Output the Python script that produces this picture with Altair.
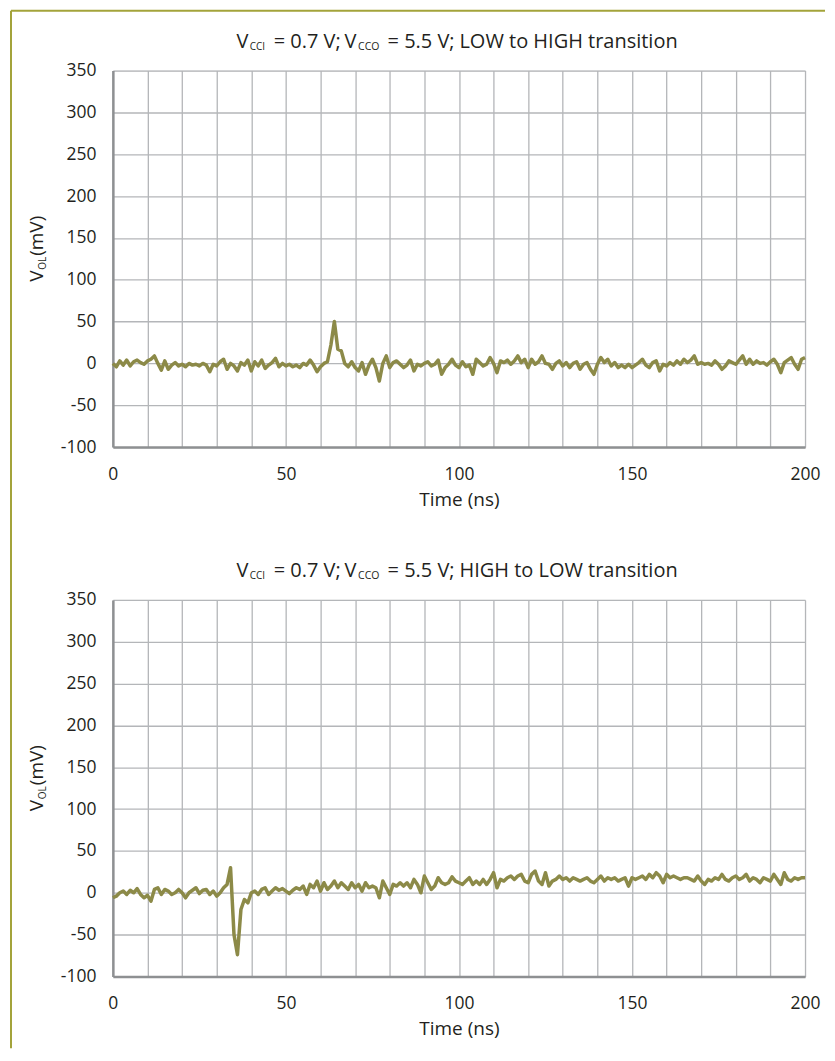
import altair as alt
import pandas as pd

# ---------------- data ----------------
time_ns = list(range(0, 201))

vol_low_to_high = [
    0, -4, 3, -2, 4, -3, 2, 4, 1, -1,
    3, 5, 9, 0, -8, 3, -7, -2, 1, -3,
    -1, -4, 0, -2, -1, -3, 0, -2, -10, -1,
    -3, 2, 5, -7, 0, -3, -9, 1, -2, 4,
    -9, 2, -3, 4, -6, -2, 1, 6, -4, 0,
    -3, -1, -4, -2, -5, 0, -2, 4, -2, -10,
    -4, 0, 2, 22, 50, 17, 15, 0, -4, 2,
    -5, -9, 1, -13, -2, 5, -5, -21, 0, 9,
    -5, 1, 3, -1, -5, -2, 4, -9, -1, -3,
    0, 2, -3, -1, 4, -13, -5, -1, 5, -2,
    -5, 2, -4, -2, -13, 5, 1, -3, -1, 7,
    0, -11, 3, 1, 4, -1, 3, 9, 1, 5,
    -5, 5, -1, 2, 9, 0, -1, -7, 0, 3,
    -3, 1, -5, 0, 2, -7, -1, 1, -7, -13,
    -1, 7, 1, 5, -3, 1, -5, -2, -5, -1,
    -5, -2, 1, 5, -2, -5, 1, 3, -9, -1,
    -3, 1, -2, 3, -1, 5, 1, 4, 9, -1,
    1, -1, 0, -2, 3, -1, -7, -3, 3, 1,
    -1, 4, 9, -1, 5, -1, 3, 0, 1, -2,
    2, 5, -1, -11, 1, 4, 7, -1, -7, 5,
    7,
]

vol_high_to_low = [
    -6, -4, 0, 2, -2, 3, 0, 5, -2, -6,
    -3, -10, 4, 6, -2, 4, 2, -2, 0, 4,
    0, -6, 0, 3, 6, -1, 3, 4, -2, 2,
    -4, 0, 6, 10, 30, -50, -74, -20, -8, -12,
    0, 2, -2, 4, 6, -2, 2, 6, 3, 5,
    2, -1, 3, 6, 4, 8, -2, 10, 6, 14,
    2, 12, 4, 8, 14, 6, 12, 8, 4, 12,
    6, 10, 2, 12, 6, 8, 6, -6, 14, 6,
    -2, 10, 8, 12, 8, 12, 6, 16, 10, 0,
    20, 12, 4, 8, 18, 12, 10, 12, 19, 14,
    12, 10, 14, 18, 10, 14, 10, 16, 10, 16,
    24, 6, 16, 14, 18, 20, 16, 20, 22, 14,
    12, 22, 26, 14, 10, 24, 8, 14, 16, 20,
    16, 18, 14, 18, 16, 14, 16, 18, 14, 12,
    16, 20, 14, 18, 16, 18, 14, 16, 18, 8,
    18, 16, 18, 20, 16, 22, 18, 24, 20, 12,
    22, 18, 20, 18, 16, 18, 18, 16, 14, 20,
    14, 10, 16, 14, 18, 16, 22, 16, 14, 18,
    20, 16, 18, 22, 14, 18, 16, 12, 18, 16,
    14, 22, 16, 10, 24, 16, 14, 18, 16, 18,
    18,
]

titles = ["LOW to HIGH transition", "HIGH to LOW transition"]

# ---------------- style ----------------
FONT = "Open Sans"
TXT = "#231f20"
LINE = "#8c8a48"
GRID = "#b4b6b9"
DOMAIN = "#8e9092"
FRAME = "#a3a33a"
W, H = 693, 377

x_ticks = list(range(0, 201, 10))
y_ticks = list(range(-100, 351, 50))


def seg(text, x, y, size=20, angle=0):
    return alt.Chart(pd.DataFrame({"t": [text]})).mark_text(
        text=text, align="left", baseline="alphabetic", font=FONT,
        fontSize=size, color=TXT, angle=angle,
    ).encode(x=alt.value(x), y=alt.value(y))


def panel(values, label, frame=False):
    df = pd.DataFrame({"t": time_ns, "v": values})
    line = alt.Chart(df).mark_line(color=LINE, strokeWidth=3.5, strokeJoin="round").encode(
        x=alt.X("t:Q", scale=alt.Scale(domain=[0, 200], nice=False, zero=False),
                axis=alt.Axis(values=x_ticks, labelExpr="datum.value % 50 == 0 ? datum.label : ''",
                              title="Time (ns)", ticks=False, labelPadding=18, titlePadding=8,
                              labelFlush=False,
                              grid=True, gridColor=GRID, gridWidth=1.3,
                              domainColor=DOMAIN, domainWidth=2.5,
                              labelFont=FONT, labelFontSize=17.5, labelColor=TXT,
                              titleFont=FONT, titleFontSize=19, titleFontWeight="normal",
                              titleColor=TXT)),
        y=alt.Y("v:Q", scale=alt.Scale(domain=[-100, 350], nice=False, zero=False),
                axis=alt.Axis(values=y_ticks, title=None, ticks=False, labelPadding=17,
                              labelExpr="'' + datum.value",
                              grid=True, gridColor=GRID, gridWidth=1.3,
                              domainColor=DOMAIN, domainWidth=2.5,
                              labelFont=FONT, labelFontSize=17.5, labelColor=TXT)),
    )
    layers = [line]
    # chart title with subscripts
    layers += [
        seg("V", 123.7, -23),
        seg("CCI", 137, -20.5, size=10),
        seg("= 0.7 V;", 161, -23),
        seg("V", 232, -23),
        seg("CCO", 245.5, -20.5, size=10.5),
        seg("= 5.5 V;", 275, -23),
        seg(label, 347, -23),
    ]
    # y-axis title with subscript
    layers += [
        seg("V", -70, 211.5, size=19, angle=270),
        seg("OL", -67, 199.5, size=10, angle=270),
        seg("(mV)", -70, 185.5, size=19, angle=270),
    ]
    if frame:
        one = pd.DataFrame({"k": [0]})
        layers += [
            alt.Chart(one).mark_rule(color=FRAME, strokeWidth=2).encode(
                x=alt.value(-102), y=alt.value(-60), y2=alt.value(979)),
            alt.Chart(one).mark_rule(color=FRAME, strokeWidth=2).encode(
                x=alt.value(-102), x2=alt.value(713), y=alt.value(-60)),
        ]
    return alt.layer(*layers).properties(width=W, height=H)


chart = alt.vconcat(
    panel(vol_low_to_high, titles[0], frame=True),
    panel(vol_high_to_low, titles[1]),
    spacing=153,
).properties(
    bounds="flush",
    padding={"left": 1, "top": 0, "right": 0, "bottom": 0},
).configure_view(stroke=None).configure(background="white")

chart.save("out.html", embed_options={"renderer": "svg", "actions": False})
